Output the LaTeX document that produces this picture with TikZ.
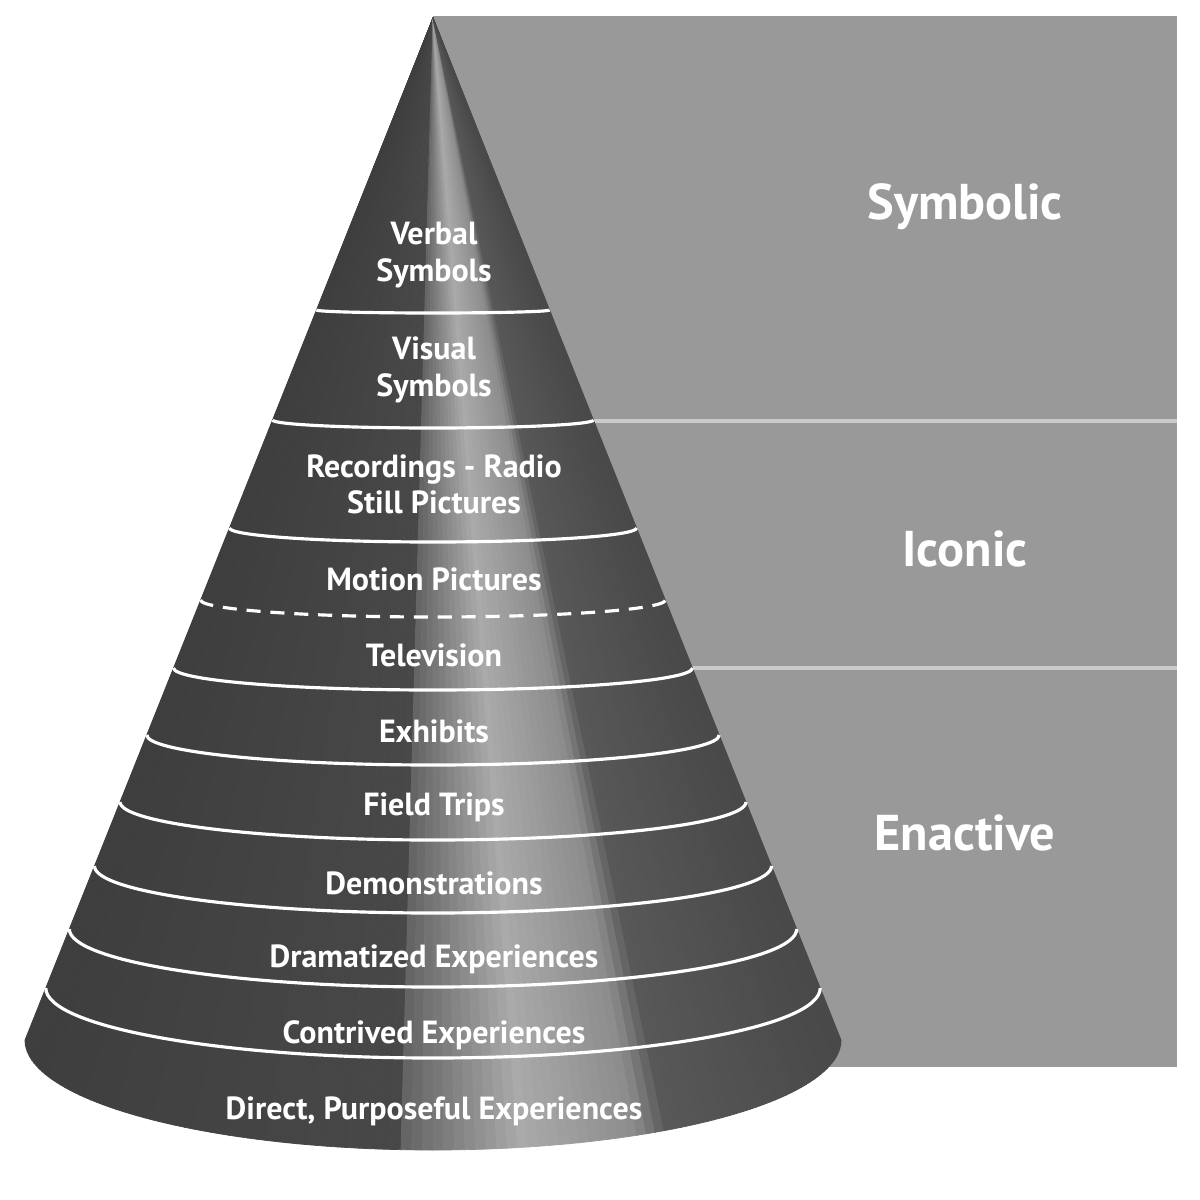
\documentclass[tikz,border=0pt]{standalone}
\usepackage{fontspec}
\setmainfont{PT Sans}
\usepackage{tikz}
\usepackage{xcolor}
\definecolor{panelgray}{HTML}{999999}
\definecolor{rulegray}{HTML}{CACACA}

\begin{document}
\begin{tikzpicture}[x=0.01cm,y=0.01cm,
    band/.style={white,line width=0.9pt},
    layer/.style={text=white,font=\bfseries\fontsize{9.1}{10.3}\selectfont,align=center},
    mode/.style={text=white,font=\bfseries\fontsize{14.3}{16}\selectfont}]
  \useasboundingbox (0,0) rectangle (1200,-1200);
  % grey panel behind the cone
  \fill[panelgray] (433,-16) rectangle (1177,-1067);
  \draw[rulegray,line width=0.9pt] (433,-421) -- (1177,-421);
  \draw[rulegray,line width=0.9pt] (433,-668) -- (1177,-668);
  % the cone, as thin slices from the apex
  \coordinate (apex) at (433,-18);
  \foreach \i in {0,...,119}{
    \pgfmathsetmacro\ta{180+1.5*\i}
    \pgfmathsetmacro\tb{\ta+1.5}
    \pgfmathsetmacro\u{cos(\ta+0.75)}
    \pgfmathsetmacro\g{\u<-0.07 ? 62+(\u+1)*10.75 : (\u<0.22 ? 100+(\u+0.07)*241 : (\u<0.5 ? 170-(\u-0.22)*107 : (\u<0.57 ? 140-(\u-0.5)*700 : 88-(\u-0.57)*35)))}
    \pgfmathsetmacro\p{100-\g/2.55}
    \filldraw[black!\p,line width=0.2pt] (apex) -- ([shift={(433,-1040)}]\ta:408 and 110)
      arc[start angle=\ta,end angle=\tb,x radius=408,y radius=110] -- cycle;
  }
  % band lines
  \foreach \ye/\sg in {310/3,420/8,528/14,668/22,735/30,802/38,866/47,929/58,988/70}{
    \pgfmathsetmacro\w{0.3992*(\ye-18)}
    \draw[band] (433-\w,-\ye) arc[start angle=180,end angle=360,x radius=\w,y radius=\sg];
  }
  \pgfmathsetmacro\w{0.3992*(600-18)}
  \draw[band,dash pattern=on 4pt off 2.8pt] (433-\w,-600) arc[start angle=180,end angle=360,x radius=\w,y radius=17];
  % labels on the cone
  \foreach \y/\nm/\txt in {255/verbal/{Verbal\\Symbols},370/visual/{Visual\\Symbols},
      484/recordings/{Recordings - Radio\\Still Pictures},579/motion/{Motion Pictures},
      655/tv/{Television},731/exhibits/{Exhibits},807/trips/{Field Trips},
      883/demos/{Demonstrations},959/dramatized/{Dramatized Experiences},
      1035/contrived/{Contrived Experiences},1111/direct/{Direct, Purposeful Experiences}}{
    \node[layer] (\nm) at (434,-\y) {\txt};
  }
  % modes on the panel
  \node[mode] (symbolic) at (965,-207) {Symbolic};
  \node[mode] (iconic) at (965,-549) {Iconic};
  \node[mode] (enactive) at (965,-833) {Enactive};
\end{tikzpicture}
\end{document}
